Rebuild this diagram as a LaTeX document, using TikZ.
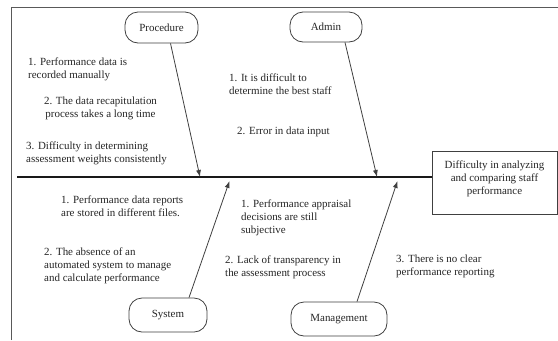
\documentclass[tikz,border=0pt]{standalone}
\usepackage{fontspec}
\setmainfont{Liberation Serif}
\usetikzlibrary{arrows.meta}

\tikzset{
  frameline/.style={draw=black!65, line width=0.9bp},
  category/.style={draw=black!75, line width=0.8bp, rectangle, rounded corners=13bp,
    inner sep=0pt, font=\fontsize{11}{13}\selectfont, text=black!85},
  cause/.style={inner sep=0pt, align=left, anchor=north west,
    font=\fontsize{11}{13}\selectfont, text=black!85},
  causec/.style={cause, align=center, anchor=north},
  spineline/.style={draw=black!90, line width=1.5bp},
  branch/.style={draw=black!75, line width=0.8bp, -{Latex[length=7bp,width=5bp]}},
  effectbox/.style={draw=black!75, line width=0.8bp, rectangle, inner sep=0pt,
    minimum width=125bp, minimum height=63bp}
}

\begin{document}
\begin{tikzpicture}[x=1bp,y=-1bp]
  \useasboundingbox (0,0) rectangle (558,340);
  \fill[white] (0,0) rectangle (558,340);

  % page frame
  \draw[frameline] (11,340) -- (11,7) -- (558,7);

  % effect
  \node[effectbox] (effect) at (494.5,182.5) {};
  \node[causec, anchor=north] (efftext) at ([yshift=-10bp]effect.north)
    {Difficulty in analyzing\\and comparing staff\\performance};

  % spine
  \coordinate (s0) at (17,177);
  \draw[spineline] (s0) -- (s0 -| effect.west);

  % categories
  \node[category, minimum width=73bp, minimum height=31bp] (proc) at (161.5,27.5) {Procedure};
  \node[category, minimum width=72bp, minimum height=30bp] (admin) at (326,27) {Admin};
  \node[category, minimum width=78bp, minimum height=34bp] (sys) at (168,315) {System};
  \node[category, minimum width=96bp, minimum height=34bp] (mgmt) at (339,319) {Management};

  % points where the branches meet the spine
  \coordinate (tproc) at (200,177);
  \coordinate (tadmin) at (377,177);
  \coordinate (tsys) at (229.5,181);
  \coordinate (tmgmt) at (397.5,181);

  \draw[branch] ([xshift=9bp]proc.south) -- (tproc);
  \draw[branch] ([xshift=19bp]admin.south) -- (tadmin);
  \draw[branch] ([xshift=21bp]sys.north) -- (tsys);
  \draw[branch] ([xshift=18bp]mgmt.north) -- (tmgmt);

  % causes: procedure
  \node[cause] (p1) at (28,58) {1. Performance data is\\recorded manually};
  \node[causec] (p2) at (100.5,97) {2. The data recapitulation\\process takes a long time};
  \node[cause] (p3) at (26,142) {3. Difficulty in determining\\assessment weights consistently};

  % causes: admin
  \node[cause] (a1) at (229,74) {1. It is difficult to\\determine the best staff};
  \node[cause] (a2) at (237,127) {2. Error in data input};

  % causes: system
  \node[cause] (s1) at (61,196) {1. Performance data reports\\are stored in different files.};
  \node[cause] (s2) at (44,248) {2. The absence of an\\automated system to manage\\and calculate performance};

  % causes: management
  \node[cause] (m1) at (241,200) {1. Performance appraisal\\decisions are still\\subjective};
  \node[cause] (m2) at (225,256) {2. Lack of transparency in\\the assessment process};
  \node[cause] (m3) at (396,255) {3. There is no clear\\performance reporting};
\end{tikzpicture}
\end{document}
